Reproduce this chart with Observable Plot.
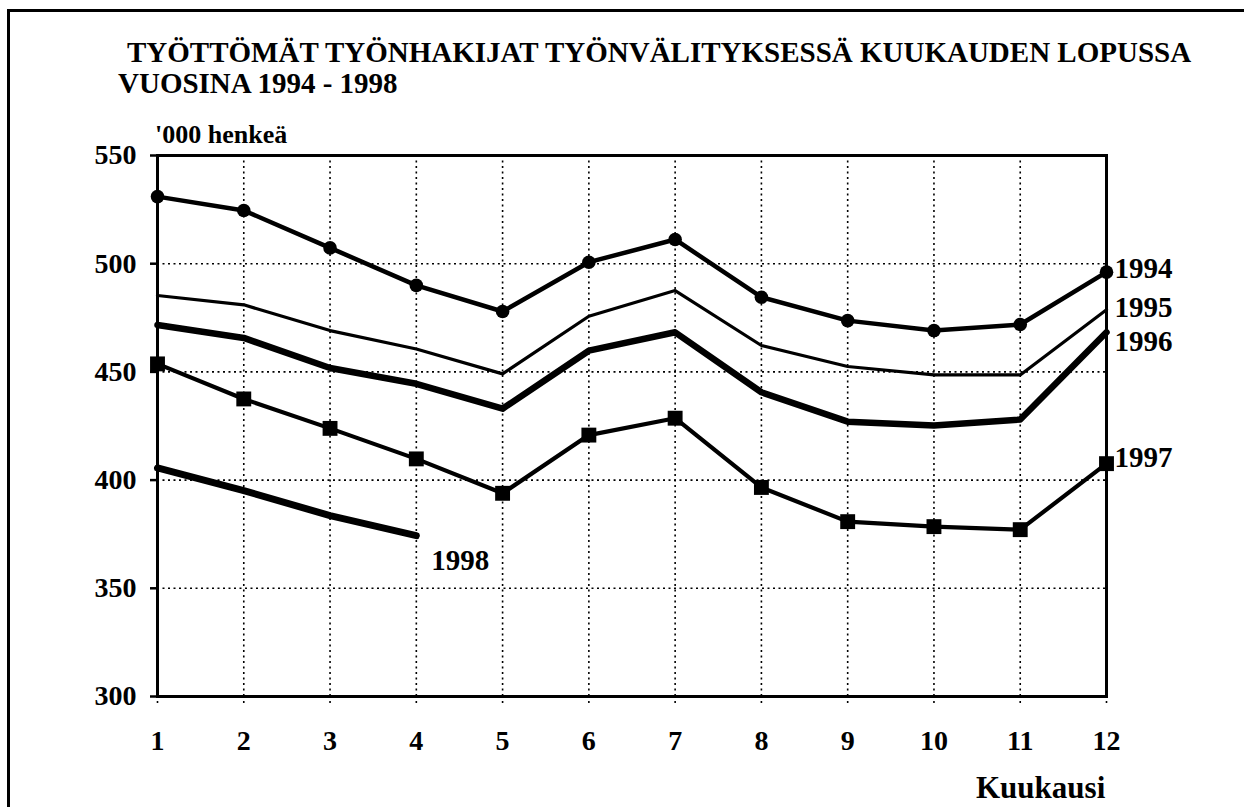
<!DOCTYPE html>
<html>
<head>
<meta charset="utf-8">
<script src="https://cdn.jsdelivr.net/npm/d3@7"></script>
<script src="https://cdn.jsdelivr.net/npm/@observablehq/plot@0.6"></script>
<style>
  body { margin: 0; background: #fff; }
  #wrap { position: relative; width: 1244px; height: 807px; overflow: hidden;
          font-family: "Liberation Serif", "Times New Roman", serif; font-weight: bold; color: #000; }
  #border { position: absolute; left: 7px; top: 9px; width: 1250px; height: 820px;
            border-left: 3px solid #000; border-top: 3px solid #000; }
  #title { position: absolute; left: 118px; top: 37px; font-size: 29px; line-height: 31px; white-space: nowrap; }
  #title .l1 { padding-left: 9px; }
  #ylab { position: absolute; left: 155px; top: 120px; font-size: 26px; white-space: nowrap; }
  #xlab { position: absolute; left: 976px; top: 770px; font-size: 31px; white-space: nowrap; }
  #chart { position: absolute; left: 0; top: 0; }
</style>
</head>
<body>
<div id="wrap">
  <div id="border"></div>
  <div id="chart"></div>
  <div id="title"><span class="l1">TYÖTTÖMÄT TYÖNHAKIJAT TYÖNVÄLITYKSESSÄ KUUKAUDEN LOPUSSA</span><br>VUOSINA 1994 - 1998</div>
  <div id="ylab">'000 henkeä</div>
  <div id="xlab">Kuukausi</div>
</div>
<script>
const months = [1, 2, 3, 4, 5, 6, 7, 8, 9, 10, 11, 12];
const yTicks = [300, 350, 400, 450, 500, 550];
const years = ["1994", "1995", "1996", "1997", "1998"];
const v1994 = [531, 524.6, 507.3, 490, 477.9, 500.7, 511.2, 484.5, 473.7, 469.1, 471.9, 496.1];
const v1995 = [485.3, 481, 469.1, 460.6, 449.1, 475.7, 487.6, 462.2, 452.5, 448.6, 448.6, 478.7];
const v1996 = [471.7, 465.7, 451.8, 444.5, 433, 459.8, 468.3, 440.6, 427, 425.2, 428, 468.3];
const v1997 = [453.7, 437.5, 423.9, 409.8, 393.9, 420.8, 428.6, 396.6, 380.8, 378.5, 377.1, 407.6];
const v1998 = [405.6, 395.1, 383.6, 374.3];

const seriesValues = [v1994, v1995, v1996, v1997, v1998];
const series = years.map((year, i) =>
  seriesValues[i].map((value, j) => ({year, month: months[j], value}))
);

// styling per series (not data)
const widths = {"1994": 4.5, "1995": 3.2, "1996": 6.5, "1997": 4.2, "1998": 7};
const labelOffsets = {
  "1994": {dx: 8, dy: -3},
  "1995": {dx: 8, dy: -2},
  "1996": {dx: 8, dy: 9},
  "1997": {dx: 8, dy: -6},
  "1998": {dx: 15, dy: 25}
};

const marks = [
  Plot.gridX(months, {stroke: "#000", strokeOpacity: 1, strokeWidth: 1.6, strokeDasharray: "2,3.5"}),
  Plot.gridY(yTicks.filter(d => d > 300 && d < 550), {stroke: "#000", strokeOpacity: 1, strokeWidth: 1.6, strokeDasharray: "2,3.5"}),
  Plot.axisX({ticks: months, tickSize: 9, tickPadding: 25, strokeWidth: 1.6, strokeDasharray: "2,3", label: null, tickFormat: d => String(d), fontSize: 28}),
  Plot.axisY({ticks: yTicks, tickSize: 7, tickPadding: 14, strokeWidth: 2.5, label: null, tickFormat: d => String(d), fontSize: 28}),
  Plot.frame({stroke: "#000", strokeWidth: 3})
];

series.forEach(rows => {
  const y = rows[0].year;
  marks.push(Plot.line(rows, {x: "month", y: "value", stroke: "#000", strokeWidth: widths[y], strokeLinejoin: "round", strokeLinecap: "round"}));
});
marks.push(Plot.dot(series[0], {x: "month", y: "value", r: 6.8, fill: "#000", stroke: "none"}));
marks.push(Plot.dot(series[3], {x: "month", y: "value", symbol: "square", r: 8.4, fill: "#000", stroke: "none"}));
series.forEach(rows => {
  const last = rows[rows.length - 1];
  const o = labelOffsets[last.year];
  marks.push(Plot.text([last], {x: "month", y: "value", text: "year", textAnchor: "start", dx: o.dx, dy: o.dy, fontSize: 29, fill: "#000"}));
});

const chart = Plot.plot({
  width: 1244,
  height: 807,
  marginTop: 155,
  marginLeft: 157,
  marginRight: 138,
  marginBottom: 111,
  x: {domain: [1, 12]},
  y: {domain: [300, 550]},
  style: {fontFamily: '"Liberation Serif", "Times New Roman", serif', fontWeight: "bold", fontSize: "28px", background: "transparent", color: "#000", overflow: "visible"},
  marks
});
document.getElementById("chart").appendChild(chart);
</script>
</body>
</html>
